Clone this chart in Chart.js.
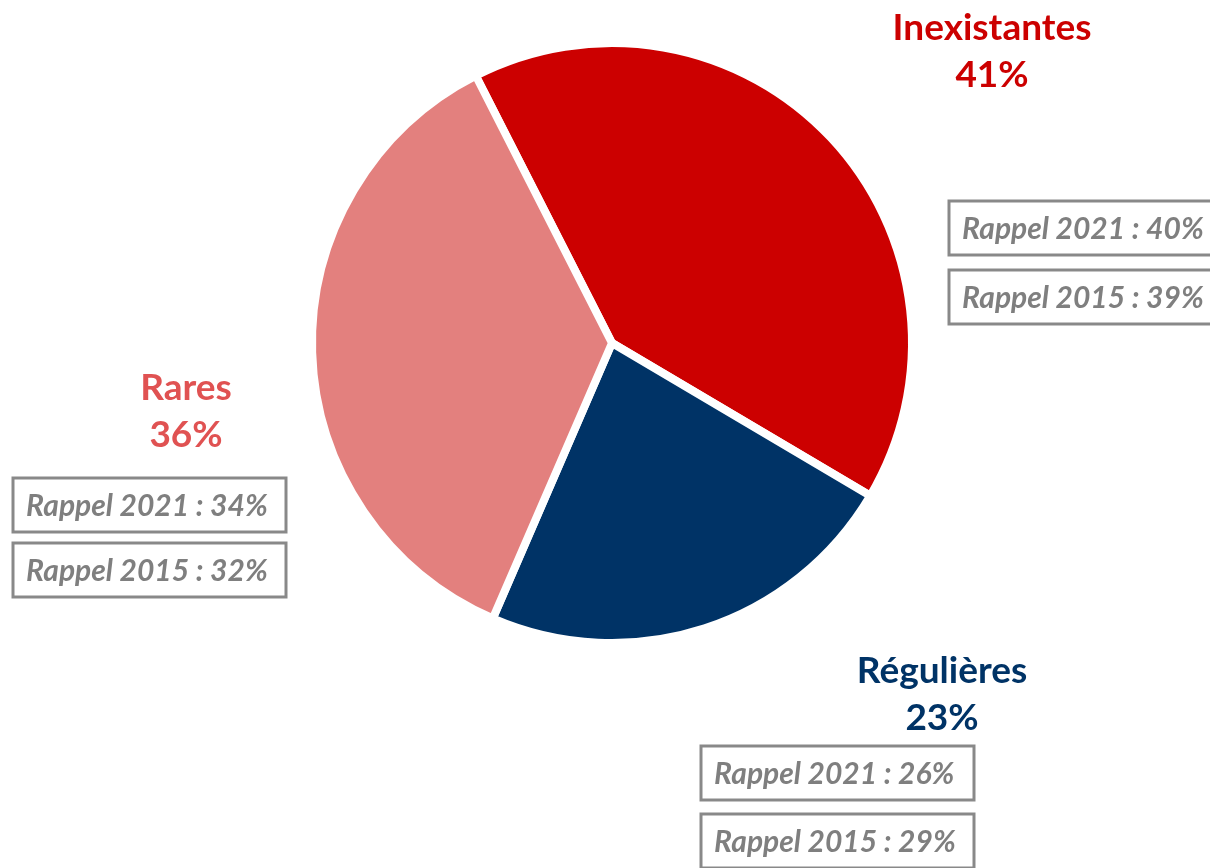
<!DOCTYPE html>
<html>
<head>
<meta charset="utf-8">
<script src="https://cdn.jsdelivr.net/npm/chart.js@4.4.0/dist/chart.umd.min.js"></script>
<style>
  html, body { margin: 0; padding: 0; background: #fff; }
  #wrap { width: 1210px; height: 868px; position: relative; }
</style>
</head>
<body>
<div id="wrap"><canvas id="myChart" width="1210" height="868"></canvas></div>
<script>
// Données
const categories = ["Inexistantes", "Régulières", "Rares"]
const valeurs = [41, 23, 36]
const rappel2021 = [40, 26, 34]
const rappel2015 = [39, 29, 32]
const couleurs = ["#CC0000", "#003366", "#E3807E"]
const couleursTexte = ["#CC0000", "#003366", "#E05252"]

// position des étiquettes (centre du titre, coin gauche des encadrés)
const positions = [
    { x: 992, y: 28, bx: 949, by: 201 },
    { x: 942, y: 671, bx: 701, by: 746 },
    { x: 186, y: 388, bx: 13, by: 478 }
]

const etiquettes = {
    id: "etiquettes",
    afterDraw(chart) {
        const ctx = chart.ctx
        ctx.save()
        categories.forEach((cat, i) => {
            const p = positions[i]
            ctx.fillStyle = couleursTexte[i]
            ctx.font = "bold 37px Lato"
            ctx.textAlign = "center"
            ctx.textBaseline = "middle"
            ctx.fillText(cat, p.x, p.y)
            ctx.fillText(valeurs[i] + "%", p.x, p.y + 47)

            const lignes = [
                "Rappel 2021 : " + rappel2021[i] + "%",
                "Rappel 2015 : " + rappel2015[i] + "%"
            ]
            const gap = i === 1 ? 68 : (i === 0 ? 69 : 65)
            lignes.forEach((txt, j) => {
                const y = p.by + j * gap
                ctx.strokeStyle = "#898989"
                ctx.lineWidth = 3
                ctx.strokeRect(p.bx, y, 273, 54)
                ctx.fillStyle = "#7F7F7F"
                ctx.font = "italic bold 30px Lato"
                ctx.textAlign = "left"
                ctx.fillText(txt, p.bx + 13, y + 28)
            })
        })
        ctx.restore()
    }
}

const data = {
    labels: categories,
    datasets: [{
        data: valeurs,
        backgroundColor: couleurs,
        borderColor: "#ffffff",
        borderWidth: 8
    }]
}

const config = {
    type: "pie",
    data,
    options: {
        responsive: false,
        animation: false,
        rotation: -27,
        layout: { padding: { top: 39, bottom: 221, left: 308, right: 294 } },
        plugins: {
            legend: { display: false },
            tooltip: { enabled: false }
        }
    },
    plugins: [etiquettes]
}

new Chart(document.getElementById("myChart"), config)
</script>
</body>
</html>
